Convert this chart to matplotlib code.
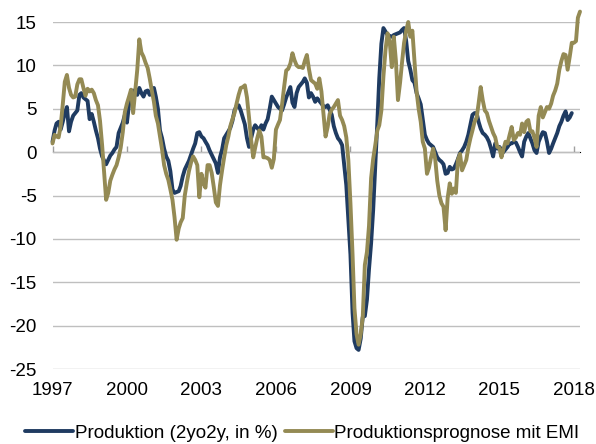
import matplotlib
matplotlib.use("Agg")
import matplotlib.pyplot as plt
import matplotlib.dates as mdates
import pandas as pd

plt.rcParams['font.family'] = ['Liberation Sans', 'DejaVu Sans']

# ---- data (monthly, starting Jan 1997) ----
start_date = "1997-01-01"
produktion = [
    # 1997
    1.2, 2.5, 3.3, 3.5, 2.6, 3.5, 4.5, 5.2, 2.4, 3.5, 4.2, 4.5,
    # 1998
    4.8, 6.6, 6.8, 6.3, 6.1, 5.9, 3.8, 4.4, 3.5, 2.5, 1.6, 0.4,
    # 1999
    -0.5, -1.0, -1.4, -0.9, -0.4, -0.1, 0.3, 0.6, 2.2, 2.8, 3.4, 4.3,
    # 2000
    3.4, 5.5, 6.4, 7.1, 6.8, 6.6, 7.4, 6.8, 6.4, 7.0, 7.1, 6.6,
    # 2001
    7.2, 7.4, 6.4, 5.0, 2.5, 1.6, 0.4, -0.5, -1.0, -2.2, -4.3, -4.7,
    # 2002
    -4.6, -4.5, -3.9, -2.8, -2.0, -1.5, -1.0, -0.3, 0.4, 1.0, 2.2, 2.3,
    # 2003
    1.8, 1.6, 1.2, 0.8, 0.2, -0.3, -0.8, -1.3, -2.4, -0.6, 0.3, 1.6,
    # 2004
    2.0, 2.4, 2.8, 3.6, 4.8, 5.3, 5.4, 4.8, 4.0, 3.2, 1.6, 0.6,
    # 2005
    1.6, 2.6, 3.1, 2.8, 2.5, 3.1, 2.6, 3.3, 3.8, 5.0, 6.4, 6.0,
    # 2006
    5.6, 5.2, 5.0, 4.8, 5.5, 6.3, 6.9, 7.5, 5.7, 5.2, 6.8, 7.5,
    # 2007
    7.8, 8.1, 8.5, 8.0, 6.3, 6.8, 6.4, 5.8, 6.2, 5.9, 5.6, 5.3,
    # 2008
    5.2, 5.4, 4.9, 4.3, 3.0, 2.2, 1.6, 1.3, 0.8, -1.5, -3.8, -7.8,
    # 2009
    -11.8, -18.5, -21.8, -22.6, -22.8, -21.5, -19.0, -18.9, -17.0, -13.5, -10.5, -6.7,
    # 2010
    -1.7, 3.5, 8.5, 12.5, 14.3, 13.9, 13.5, 13.4, 13.3, 13.5, 13.6, 13.7,
    # 2011
    13.8, 14.1, 14.3, 12.8, 10.5, 9.5, 8.3, 8.0, 6.8, 6.2, 5.5, 3.8,
    # 2012
    2.0, 1.4, 1.0, 0.8, 0.6, 0.0, -0.6, -0.9, -1.1, -1.4, -2.5, -2.4,
    # 2013
    -1.7, -2.0, -1.9, -1.4, -0.8, -0.1, 0.2, 0.6, 1.2, 2.0, 3.2, 4.3,
    # 2014
    4.5, 4.5, 3.5, 2.7, 2.2, 2.0, 1.7, 1.2, 0.4, -0.5, 1.0, 0.4,
    # 2015
    0.6, 0.3, 0.0, 0.3, 0.6, 1.0, 1.0, 1.2, 1.1, 0.6, 0.0, -0.5,
    # 2016
    1.2, 1.8, 2.2, 1.6, 1.0, 0.2, -0.1, 1.2, 1.8, 2.3, 2.2, 1.2,
    # 2017
    -0.1, 0.4, 1.0, 1.6, 2.2, 3.0, 3.5, 4.2, 4.7, 3.7, 4.0, 4.5,
]
prognose_emi = [
    # 1997
    1.0, 2.0, 1.8, 1.7, 3.0, 5.5, 8.1, 8.9, 7.4, 6.6, 6.3, 6.4,
    # 1998
    7.8, 8.4, 8.4, 7.4, 6.5, 7.3, 7.0, 7.2, 6.8, 6.0, 5.4, 3.6,
    # 1999
    0.8, -2.6, -5.5, -4.7, -3.3, -2.6, -2.0, -1.5, -0.6, 0.5, 2.3, 4.6,
    # 2000
    5.6, 6.4, 7.2, 4.5, 7.0, 9.5, 13.0, 11.5, 11.0, 10.3, 9.7, 8.5,
    # 2001
    7.1, 5.8, 4.2, 3.3, 1.8, 0.3, -1.5, -2.5, -3.2, -4.3, -5.5, -7.5,
    # 2002
    -10.1, -8.8, -8.1, -7.6, -5.0, -3.5, -2.2, -1.2, -0.5, -0.9, -1.5, -5.2,
    # 2003
    -2.5, -3.6, -4.1, -1.5, -1.5, -2.4, -4.0, -5.8, -6.2, -3.8, -2.1, -0.6,
    # 2004
    0.8, 1.8, 3.0, 3.8, 4.5, 5.6, 6.6, 7.4, 7.5, 7.7, 6.3, 4.0,
    # 2005
    1.4, -0.6, 0.5, 1.6, 2.5, 1.8, -0.6, -0.6, -0.7, -0.9, -1.8, -0.8,
    # 2006
    2.6, 3.2, 3.7, 5.5, 7.5, 9.4, 9.6, 10.2, 11.4, 10.6, 10.0, 9.8,
    # 2007
    9.8, 9.7, 10.5, 11.2, 9.6, 8.3, 8.1, 7.9, 7.3, 8.5, 7.0, 4.5,
    # 2008
    1.8, 2.9, 4.4, 4.9, 5.2, 5.6, 6.0, 4.2, 3.7, 3.0, 1.7, -0.9,
    # 2009
    -5.9, -11.8, -18.0, -21.0, -22.2, -21.0, -19.0, -13.0, -11.5, -8.5, -3.0, -0.8,
    # 2010
    0.8, 2.5, 3.1, 4.8, 8.7, 11.8, 13.7, 12.8, 9.8, 13.3, 10.5, 6.0,
    # 2011
    8.0, 10.5, 12.6, 14.0, 15.0, 13.3, 14.0, 10.5, 7.0, 5.0, 3.5, 1.2,
    # 2012
    0.4, -2.5, -1.8, -0.6, 0.4, -0.8, -3.3, -5.0, -5.9, -6.3, -9.0, -5.3,
    # 2013
    -3.6, -4.8, -4.2, -4.7, -0.9, -0.2, -2.1, -1.5, -0.9, 0.5, 1.6, 2.5,
    # 2014
    3.5, 4.0, 5.6, 7.5, 6.0, 4.8, 4.5, 3.6, 2.9, 2.2, 1.7, 0.6,
    # 2015
    0.5, -0.6, 0.3, 1.2, 1.0, 2.0, 2.9, 1.4, 1.7, 2.2, 2.0, 3.3,
    # 2016
    2.3, 3.5, 3.7, 2.4, 2.4, 1.6, 0.6, 4.2, 5.2, 4.0, 4.6, 5.2,
    # 2017
    5.0, 5.6, 6.5, 7.1, 7.9, 9.5, 10.5, 11.3, 11.2, 9.5, 11.0, 12.6,
    # 2018
    12.6, 12.8, 15.5, 16.2,
]
tick_years = [1997, 2000, 2003, 2006, 2009, 2012, 2015, 2018]
y_ticks = [-25, -20, -15, -10, -5, 0, 5, 10, 15]
labels = ["Produktion (2yo2y, in %)", "Produktionsprognose mit EMI"]

blue = "#1F3B61"
olive = "#948A54"
grid_c = "#BFBFBF"
axis_c = "#A0A0A0"
fs = 13.5

dates_p = pd.date_range(start_date, periods=len(produktion), freq="MS")
dates_e = pd.date_range(start_date, periods=len(prognose_emi), freq="MS")

fig = plt.figure(figsize=(5.96, 4.44), dpi=100)
ax = fig.add_axes([52.5 / 596, 1 - 369 / 444, 527.5 / 596, 347 / 444])

l1, = ax.plot(dates_p, produktion, color=blue, lw=2.8, solid_joinstyle="round",
              solid_capstyle="round", zorder=3, clip_on=False)
l2, = ax.plot(dates_e, prognose_emi, color=olive, lw=2.8, solid_joinstyle="round",
              solid_capstyle="round", zorder=4, clip_on=False)

ymin, ymax = y_ticks[0], y_ticks[-1]
ax.set_ylim(ymin, ymax)
ax.set_xlim(dates_e[0], dates_e[-1])
ax.set_yticks(y_ticks)
ax.set_yticklabels([str(v) for v in y_ticks])
ax.yaxis.grid(True, color=grid_c, lw=1.0)
ax.set_axisbelow(True)
for s in ax.spines.values():
    s.set_visible(False)

tick_dates = [pd.Timestamp(f"{y}-01-01") for y in tick_years]
tick_nums = mdates.date2num(tick_dates)
ax.set_xticks(tick_nums)
ax.set_xticklabels([str(y) for y in tick_years])
ax.tick_params(axis="both", length=0, labelsize=fs, colors="black")
ax.tick_params(axis="x", pad=9.5)
ax.tick_params(axis="y", pad=11.5)

# zero axis line with tick marks
zero_loc = (0 - ymin) / (ymax - ymin)
sec = ax.secondary_xaxis(zero_loc)
sec.set_xticks(tick_nums)
sec.set_xticklabels([])
sec.tick_params(axis="x", direction="out", length=4, width=1, color=axis_c)
sec.spines["bottom"].set_color(axis_c)
sec.spines["bottom"].set_linewidth(1.2)

leg = fig.legend([l1, l2], labels, loc="center", bbox_to_anchor=(0.5076, 0.024), ncol=2,
                 frameon=False, fontsize=fs, handlelength=2.55, handletextpad=0.1,
                 columnspacing=0.37, borderaxespad=0, borderpad=0)
for h in leg.legend_handles:
    h.set_linewidth(2.8)

fig.savefig("out.png", dpi=100)
